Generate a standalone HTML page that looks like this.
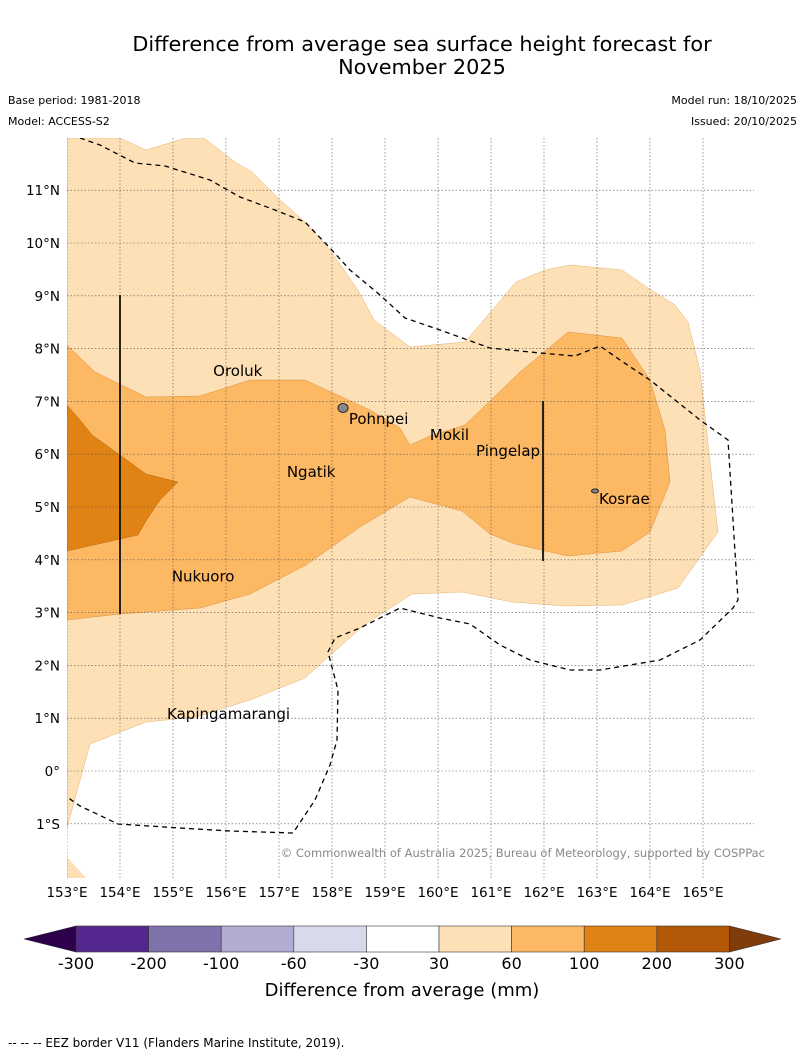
<!DOCTYPE html>
<html><head><meta charset="utf-8"><style>
body{margin:0;background:#fff;font-family:"Liberation Sans","DejaVu Sans",sans-serif}
svg text{font-family:"DejaVu Sans","Liberation Sans",sans-serif}
</style></head><body>
<svg id="s" width="804" height="1058" xmlns="http://www.w3.org/2000/svg">
<text x="422" y="51" font-size="20.8" text-anchor="middle">Difference from average sea surface height forecast for</text>
<text x="422" y="74" font-size="20.8" text-anchor="middle">November 2025</text>
<text x="8" y="104" font-size="11">Base period: 1981-2018</text>
<text x="8" y="125" font-size="11">Model: ACCESS-S2</text>
<text x="797" y="104" font-size="11" text-anchor="end">Model run: 18/10/2025</text>
<text x="797" y="125" font-size="11" text-anchor="end">Issued: 20/10/2025</text>
<g id="map"></g>
<text x="765" y="857" font-size="11.5" fill="#888" text-anchor="end">© Commonwealth of Australia 2025, Bureau of Meteorology, supported by COSPPac</text>
<g id="cb"></g>
<text x="402" y="996" font-size="18" text-anchor="middle">Difference from average (mm)</text>
<text x="8" y="1047" font-size="12">--  --  -- EEZ border V11 (Flanders Marine Institute, 2019).</text>
</svg>
<script>
const NS="http://www.w3.org/2000/svg";
const lonTicks=[153,154,155,156,157,158,159,160,161,162,163,164,165];
const latTicks=[-1,0,1,2,3,4,5,6,7,8,9,10,11];
const cbLevels=["-300","-200","-100","-60","-30","30","60","100","200","300"];
const cbColors=["#54278f","#8073ac","#b2abd2","#d8daeb","#ffffff","#fee0b6","#fdb863","#e08214","#b35806"];
const places=[["Oroluk",155.72,7.59],["Pohnpei",158.28,6.69],["Ngatik",157.11,5.68],["Mokil",159.81,6.38],["Pingelap",160.68,6.08],["Kosrae",163.0,5.17],["Nukuoro",154.94,3.7],["Kapingamarangi",154.85,1.1]];
const X=lon=>67+(lon-153)*53, Y=lat=>771-lat*52.8;
function el(t,a,p){const e=document.createElementNS(NS,t);for(const k in a)e.setAttribute(k,a[k]);(p||document.getElementById('map')).appendChild(e);return e;}
const m=document.getElementById('map');
const clip=el('clipPath',{id:'c'});el('rect',{x:67,y:138,width:687,height:740},clip);
const g=el('g',{'clip-path':'url(#c)'});
const light="67,138 120,138 146,150 186,138 204,138 235,162 252,172 280,200 305,222 330,250 358,290 374,320 410,347 465,342 516,282 545,270 570,265 622,270 648,288 675,305 688,322 700,370 712,480 718,532 678,588 622,605 565,606 512,602 462,592 412,594 364,625 305,678 250,700 196,717 146,722 90,744 67,828";
const mid="67,345 95,372 146,397 200,396 250,380 305,380 370,410 400,428 410,445 430,436 465,425 520,372 568,332 622,338 650,380 665,430 670,482 650,532 622,551 568,556 515,544 490,534 462,511 410,497 360,527 306,565 250,594 200,608 120,614 67,620";
const dark="67,405 80,420 92,435 120,455 146,474 178,482 160,500 146,521 138,535 67,551";
let p=el('polygon',{points:light,fill:cbColors[5],stroke:'#e8b070','stroke-width':0.5},g);
p=el('polygon',{points:"67,857 86,878 67,878",fill:cbColors[5]},g);
p=el('polygon',{points:mid,fill:cbColors[6],stroke:'#d89040','stroke-width':0.5},g);
p=el('polygon',{points:dark,fill:cbColors[7],stroke:'#b86a10','stroke-width':0.5},g);
lonTicks.forEach(l=>{const e=el('line',{x1:X(l),x2:X(l),y1:138,y2:878,stroke:'#555','stroke-width':0.6,'stroke-dasharray':'1.5,2'},g);
 const t=el('text',{x:X(l),y:897,'font-size':13.5,'text-anchor':'middle'});t.textContent=l+'°E';});
latTicks.forEach(l=>{const e=el('line',{x1:67,x2:754,y1:Y(l),y2:Y(l),stroke:'#555','stroke-width':0.6,'stroke-dasharray':'1.5,2'},g);
 const t=el('text',{x:60,y:Y(l)+5,'font-size':13.5,'text-anchor':'end'});t.textContent=l<0?(-l)+'°S':(l==0?'0°':l+'°N');});
const eez="80,138 100,145 135,163 165,166 210,180 240,197 275,210 305,222 330,248 350,270 380,295 405,318 440,330 490,348 540,353 575,356 600,346 620,360 650,380 700,420 728,440 733,520 738,600 733,608 700,640 660,660 600,670 570,670 530,660 500,645 470,624 440,618 400,608 360,628 335,638 328,652 338,690 337,740 330,765 315,800 293,833 230,831 180,828 118,824 80,806 67,797";
p=el('polyline',{points:eez,fill:'none',stroke:'#000','stroke-width':1.3,'stroke-dasharray':'5,4'},g);
p=el('line',{x1:120,x2:120,y1:295,y2:614,stroke:'#111','stroke-width':1.8},g);
p=el('line',{x1:543,x2:543,y1:401,y2:561,stroke:'#111','stroke-width':1.8},g);
p=el('ellipse',{cx:343,cy:408,rx:5,ry:4.5,fill:'#888',stroke:'#222','stroke-width':1},g);
p=el('ellipse',{cx:595,cy:491,rx:3.5,ry:2,fill:'#888',stroke:'#222','stroke-width':1},g);
places.forEach(d=>{const t=el('text',{x:X(d[1])+2,y:Y(d[2])+6,'font-size':15});t.textContent=d[0];});
const cb=document.getElementById('cb');const x0=76,w=72.6,y0=926,h=26;
cbColors.forEach((c,i)=>{const r=el('rect',{x:x0+i*w,y:y0,width:w,height:h,fill:c,stroke:'#333','stroke-width':0.6},cb);});
p=el('polygon',{points:`${x0},${y0} ${x0},${y0+h} 24,${y0+h/2}`,fill:'#2d004b',stroke:'#333','stroke-width':0.6},cb);
const xe=x0+9*w;p=el('polygon',{points:`${xe},${y0} ${xe},${y0+h} 781,${y0+h/2}`,fill:'#7f3b08',stroke:'#333','stroke-width':0.6},cb);
cbLevels.forEach((s,i)=>{const t=el('text',{x:x0+i*w,y:969,'font-size':16,'text-anchor':'middle'},cb);t.textContent=s;});
</script>
</body></html>
